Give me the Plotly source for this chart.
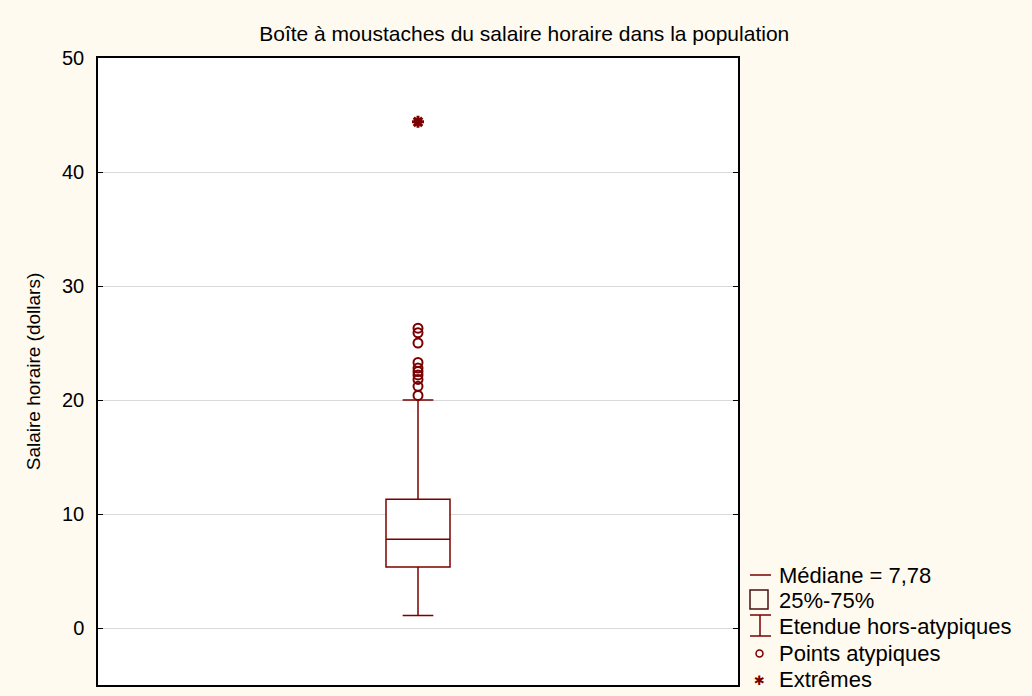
import plotly.graph_objects as go

# summary of hourly wages (dollars)
q1 = 5.34
median = 7.78
q3 = 11.29
low_whisker = 1.1
high_whisker = 20.0
outliers = [26.3, 25.9, 25.0, 23.3, 22.8, 22.5, 22.2, 21.8, 21.2, 20.4]
extremes = [44.4]

dark_red = "#7b0000"
font = "Liberation Sans, Arial, sans-serif"

fig = go.Figure()

fig.add_trace(go.Box(
    x=[0], q1=[q1], median=[median], q3=[q3],
    lowerfence=[low_whisker], upperfence=[high_whisker],
    width=1, whiskerwidth=0.48, boxpoints=False,
    line=dict(color=dark_red, width=1.5), fillcolor="white",
    showlegend=False, hoverinfo="skip",
))
fig.add_trace(go.Scatter(
    x=[0] * len(outliers), y=outliers, mode="markers",
    marker=dict(symbol="circle-open", size=9, color=dark_red, line=dict(width=2)),
    showlegend=False,
))
fig.add_trace(go.Scatter(
    x=[0] * len(extremes), y=extremes, mode="markers",
    marker=dict(symbol="asterisk-open", size=10, color=dark_red, line=dict(width=3)),
    showlegend=False,
))

# hand-made legend to the right of the plot (paper coordinates)
L, T, W, H = 98, 58, 640, 627
def px(x):
    return (x - L) / W
def py(y):
    return (T + H - y) / H

shapes = [
    dict(type="line", x0=px(750), x1=px(771), y0=py(575), y1=py(575)),
    dict(type="rect", x0=px(750), x1=px(768), y0=py(590), y1=py(609)),
    dict(type="line", x0=px(760), x1=px(760), y0=py(615), y1=py(636)),
    dict(type="line", x0=px(750), x1=px(771), y0=py(615), y1=py(615)),
    dict(type="line", x0=px(750), x1=px(771), y0=py(636), y1=py(636)),
    dict(type="circle", x0=px(756), x1=px(763), y0=py(650), y1=py(657)),
]
for s in shapes:
    s.update(xref="paper", yref="paper", line=dict(color=dark_red, width=1.5))
shapes[1]["line"]["color"] = "#4a1010"

legend_items = [("Médiane = 7,78", 575), ("25%-75%", 600), ("Etendue hors-atypiques", 626),
                ("Points atypiques", 653), ("Extrêmes", 679)]
annotations = []
for txt, y in legend_items:
    annotations.append(dict(x=px(777), y=py(y), xref="paper", yref="paper", text=txt,
                            showarrow=False, xanchor="left", yanchor="middle",
                            font=dict(family=font, size=22, color="black")))
annotations.append(dict(x=px(759), y=py(680), xref="paper", yref="paper", text="✱",
                        showarrow=False, xanchor="center", yanchor="middle",
                        font=dict(family="DejaVu Sans", size=13, color=dark_red)))

fig.update_layout(
    width=1032, height=696,
    margin=dict(l=L, r=1032 - L - W, t=T, b=696 - T - H),
    paper_bgcolor="#fffaef", plot_bgcolor="white",
    font=dict(family=font, color="black"),
    title=dict(text="Boîte à moustaches du salaire horaire dans la population",
               x=0.508, xref="container", y=0.952, yref="container",
               xanchor="center", yanchor="middle", font=dict(size=21)),
    shapes=shapes, annotations=annotations,
    showlegend=False,
)
fig.update_xaxes(range=[-5, 5], showticklabels=False, ticks="", showgrid=False,
                 zeroline=False, showline=True, linecolor="black", linewidth=1.5, mirror=True)
fig.update_yaxes(range=[-5, 50], tickvals=[0, 10, 20, 30, 40, 50],
                 showgrid=True, gridcolor="#d9d9d9", gridwidth=1, zeroline=False,
                 showline=True, linecolor="black", linewidth=1.5, mirror="ticks",
                 ticks="inside", ticklen=5, tickcolor="black", tickfont=dict(size=20),
                 ticklabelstandoff=8,
                 title=dict(text="Salaire horaire (dollars)", font=dict(size=19), standoff=16))

fig.write_html("out.html", config={"displayModeBar": False},
               post_script="document.body.style.margin='0';")
